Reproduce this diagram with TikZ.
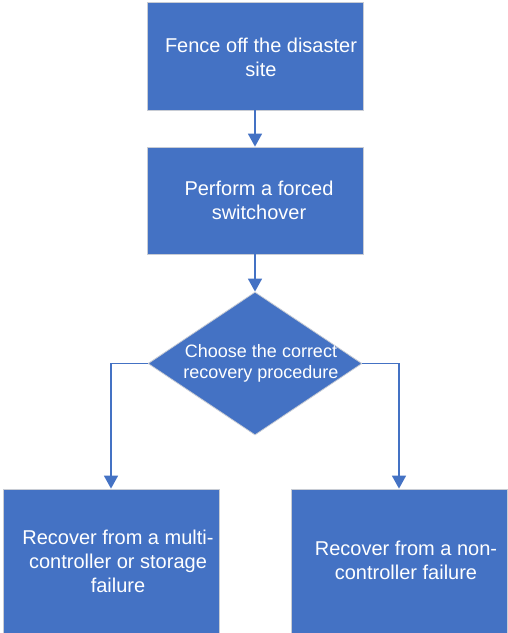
\documentclass[tikz,border=0pt]{standalone}
\usepackage{fontspec}
\setmainfont{Liberation Sans}
\usetikzlibrary{shapes.geometric,arrows.meta}
\definecolor{ofblue}{HTML}{4472C4}
\definecolor{edgegray}{HTML}{C8CCD4}
\tikzset{
  stepbox/.style={rectangle, fill=ofblue, draw=edgegray, line width=0.8pt, minimum width=216pt, inner sep=0pt},
  boxtext/.style={text=white, align=center, font=\fontsize{20}{24}\selectfont, inner sep=0pt},
  dtext/.style={text=white, align=center, font=\fontsize{18}{21}\selectfont, inner sep=0pt},
  decbox/.style={diamond, fill=ofblue, draw=edgegray, line width=0.8pt, minimum width=214pt, minimum height=143pt, inner sep=0pt},
  flow/.style={draw=ofblue, line width=1.6pt, -{Triangle[length=13pt,width=14pt]}}
}
\begin{document}
\begin{tikzpicture}[x=1pt,y=-1pt]
\useasboundingbox (0,0) rectangle (507,633);
\node[stepbox, minimum height=108pt] (b1) at (255,56) {};
\node[boxtext] (t1) at (261,57) {Fence off the disaster\\site};
\node[stepbox, minimum height=107pt] (b2) at (255,200.5) {};
\node[boxtext] (t2) at (259,200) {Perform a forced\\switchover};
\node[decbox] (d) at (255,363.5) {};
\node[dtext] (dt) at (261,363) {Choose the correct\\recovery procedure};
\node[stepbox, minimum height=146pt] (lb) at (111,562) {};
\node[boxtext] (lt) at (118,561) {Recover from a multi-\\controller or storage\\failure};
\node[stepbox, minimum height=146pt] (rb) at (399,562) {};
\node[boxtext] (rt) at (406,560) {Recover from a non-\\controller failure};
\draw[flow] (b1.south) -- (b2.north);
\draw[flow] (b2.south) -- (d.north);
\draw[flow] (d.west) -| (lb.north);
\draw[flow] (d.east) -| (rb.north);
\end{tikzpicture}
\end{document}
